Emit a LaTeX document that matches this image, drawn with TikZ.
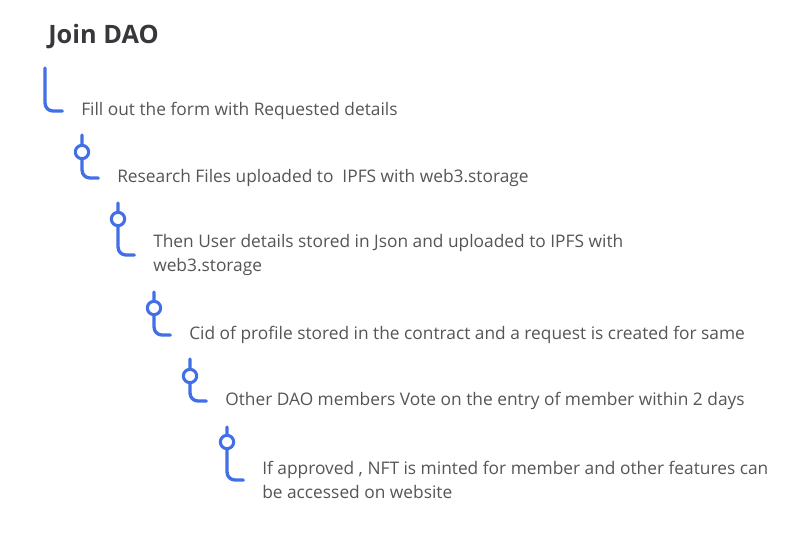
\documentclass[tikz,border=0pt]{standalone}
\usepackage{fontspec}
\setmainfont{Open Sans}
\definecolor{lineblue}{RGB}{66,110,230}
\definecolor{txtgray}{RGB}{85,85,85}
\definecolor{titlegray}{RGB}{55,55,60}
\begin{document}
\begin{tikzpicture}[x=0.75pt,y=-0.75pt,
  conn/.style={draw=lineblue,line width=2.5pt,line cap=round,rounded corners=6pt},
  dot/.style={circle,draw=lineblue,line width=2.3pt,fill=white,minimum size=10pt,inner sep=0pt},
  stepbox/.style={anchor=west,inner sep=0pt,align=left,text=txtgray,font=\fontsize{13}{18}\selectfont},
  titlebox/.style={anchor=base west,inner sep=0pt,text=titlegray,font=\fontsize{19}{22}\selectfont\bfseries}]
\useasboundingbox (0,0) rectangle (806,532);
\node[titlebox] (title) at (48,43) {Join DAO};

% level 0
\coordinate (t0) at (45,68);
\node[stepbox] (s0) at (81,111) {Fill out the form with Requested details};
\draw[conn] (t0) |- ([xshift=-14pt]s0.west);

% level 1
\coordinate (t1) at (82,135);
\node[stepbox] (s1) at (117,178) {Research Files uploaded to \ IPFS with web3.storage};
\draw[conn] (t1) |- ([xshift=-14pt]s1.west);
\node[dot] (d1) at (82,152) {};

% level 2
\coordinate (t2) at (118,203);
\node[stepbox] (s2) at (153,255) {Then User details stored in Json and uploaded to IPFS with\\web3.storage};
\draw[conn] (t2) |- ([xshift=-14pt]s2.west);
\node[dot] (d2) at (118,219) {};

% level 3
\coordinate (t3) at (154,292);
\node[stepbox] (s3) at (189,335) {Cid of profile stored in the contract and a request is created for same};
\draw[conn] (t3) |- ([xshift=-14pt]s3.west);
\node[dot] (d3) at (154,308) {};

% level 4
\coordinate (t4) at (190,359);
\node[stepbox] (s4) at (225,401) {Other DAO members Vote on the entry of member within 2 days};
\draw[conn] (t4) |- ([xshift=-14pt]s4.west);
\node[dot] (d4) at (190,376) {};

% level 5
\coordinate (t5) at (227,427);
\node[stepbox] (s5) at (262,480) {If approved , NFT is minted for member and other features can\\be accessed on website};
\draw[conn] (t5) |- ([xshift=-14pt]s5.west);
\node[dot] (d5) at (227,442) {};
\end{tikzpicture}
\end{document}
